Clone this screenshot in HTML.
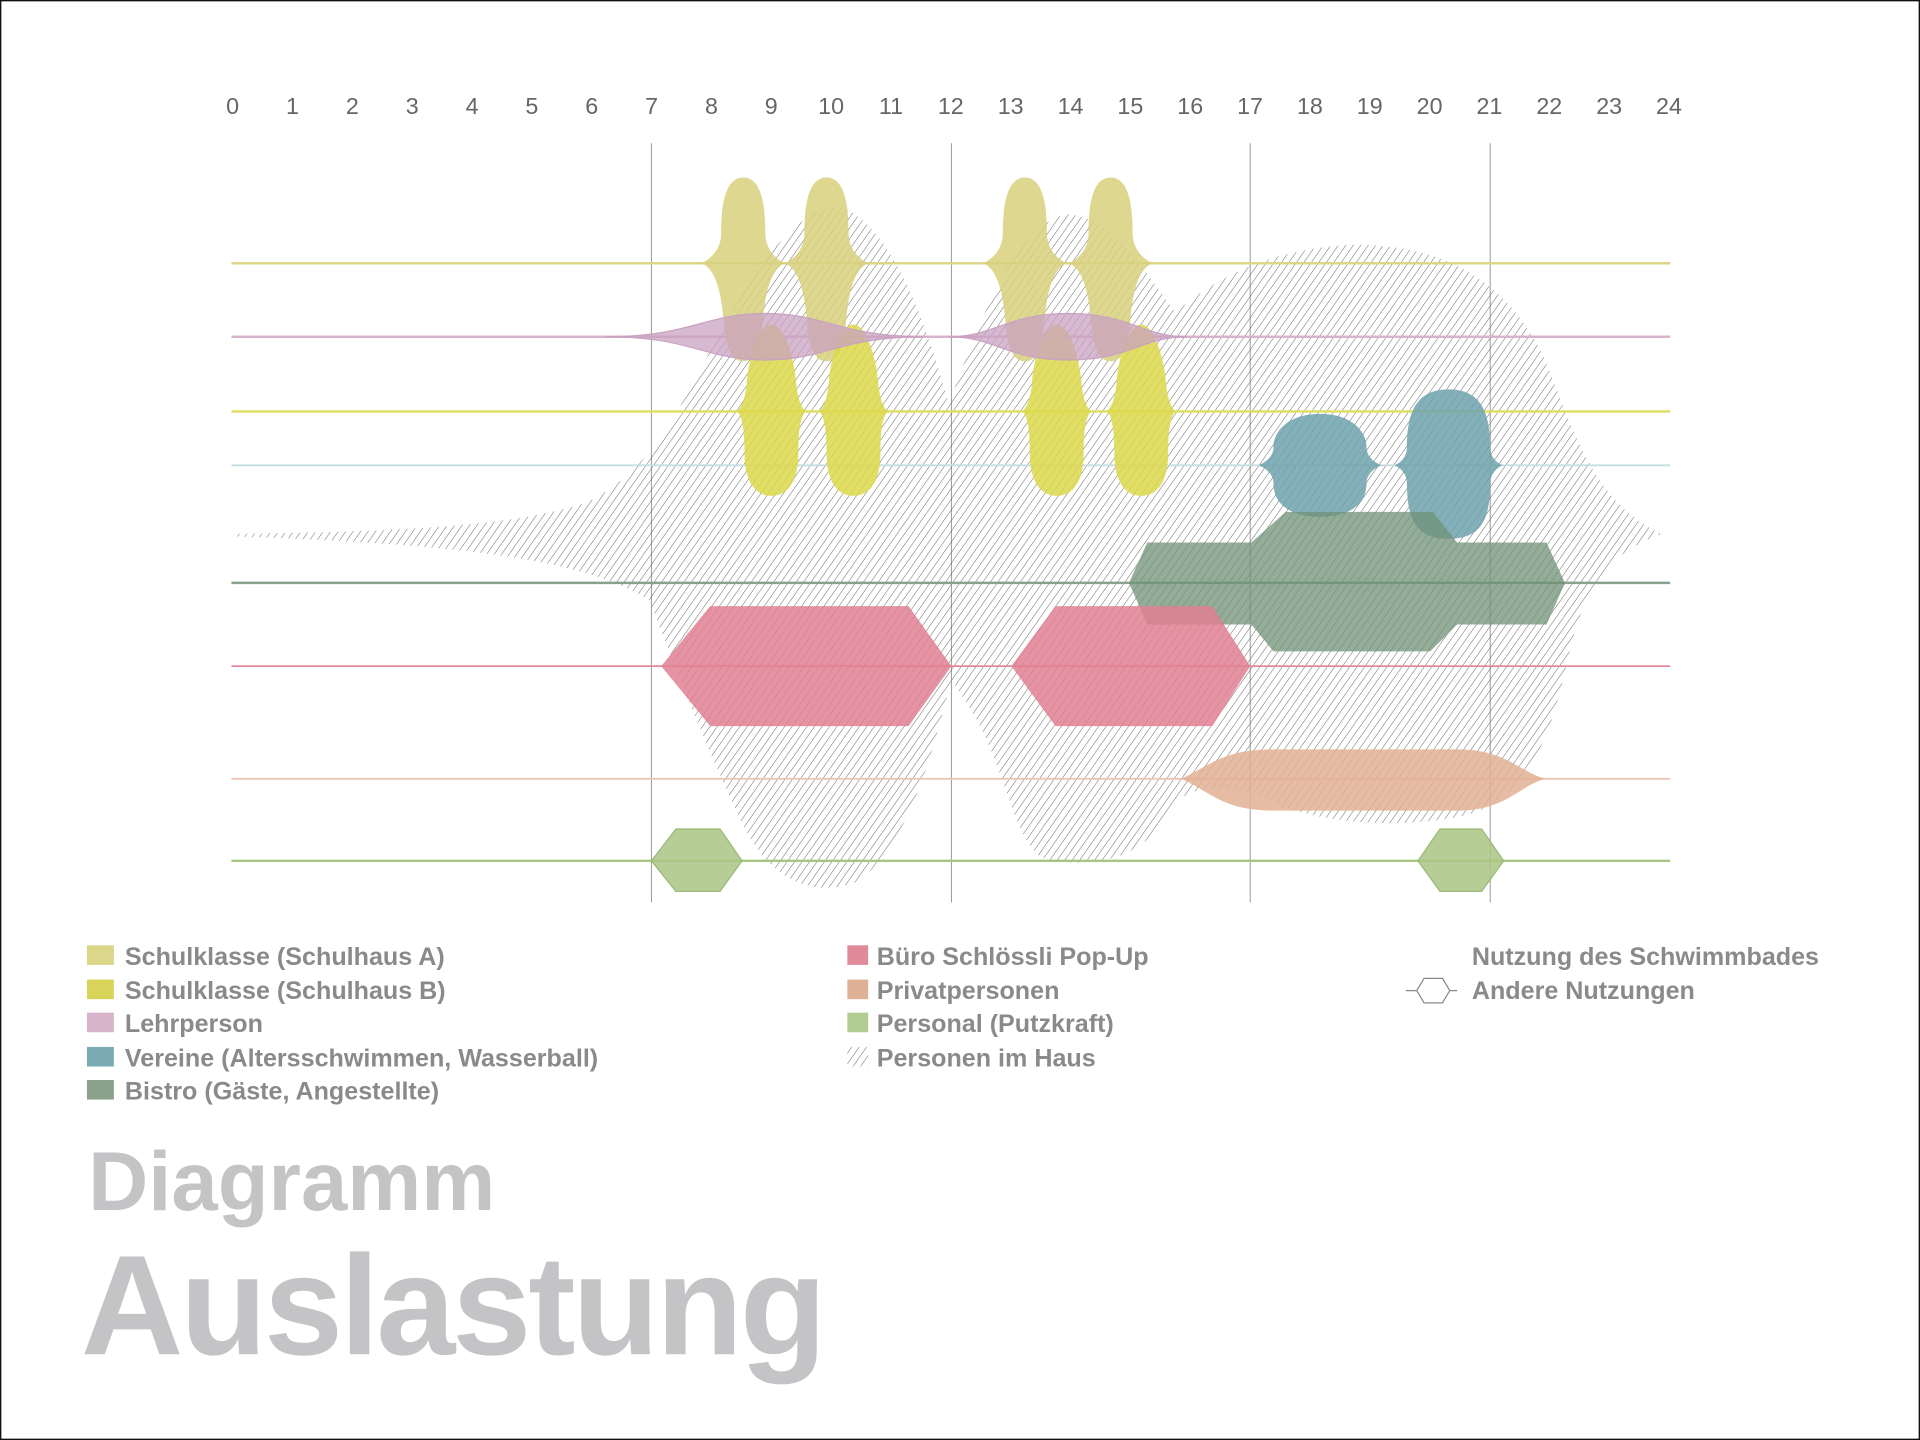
<!DOCTYPE html>
<html><head><meta charset="utf-8"><style>
html,body{margin:0;padding:0;background:#fff}
svg{display:block}
text{font-family:"Liberation Sans",sans-serif}
</style></head><body>
<svg id="s" width="1920" height="1440" viewBox="0 0 1568 1176" xmlns="http://www.w3.org/2000/svg">
<defs>
<pattern id="h" patternUnits="userSpaceOnUse" width="5" height="5" patternTransform="rotate(35)">
<line x1="0" y1="0" x2="0" y2="5" stroke="#666" stroke-width="0.8"/>
</pattern>
</defs>
<rect x="0.5" y="0.5" width="1567" height="1175" fill="#fff" stroke="#111" stroke-width="1.2"/>
<g id="hours" font-size="19" fill="#666" text-anchor="middle"></g>
<g stroke="#999" stroke-width="0.8">
<line x1="532" y1="117" x2="532" y2="737"/><line x1="777" y1="117" x2="777" y2="737"/>
<line x1="1021" y1="117" x2="1021" y2="737"/><line x1="1217" y1="117" x2="1217" y2="737"/>
</g>
<path fill="url(#h)" d="M190,436 C330,434 420,430 480,410 C540,380 560,320 600,250 C630,200 660,165 690,170 C730,190 755,260 775,330 C800,260 830,185 870,175 C910,175 940,230 960,255 C990,230 1030,205 1100,200 C1180,198 1230,230 1260,290 C1285,350 1300,410 1357,436 C1320,450 1295,470 1280,540 C1265,610 1245,650 1200,665 C1140,680 1060,670 1030,650 C990,640 965,640 950,670 C930,705 880,710 850,700 C825,680 820,620 790,575 L777,555 C765,600 745,690 700,720 C660,735 630,715 610,680 C580,620 550,540 530,490 C480,460 400,445 190,438 Z"/>
<g id="lines"></g>
<g id="shapes"></g>
<path fill="#6f9177" fill-opacity="0.75" d="M922,476 L937,443 L1022,443 L1050,418 L1170,418 L1190,443 L1263,443 L1278,476 L1263,510 L1190,510 L1168,532 L1040,532 L1022,510 L937,510 Z"/>
<path fill="#e07f92" fill-opacity="0.85" d="M540,544 L580,495 L742,495 L777,544 L742,593 L580,593 Z"/>
<path fill="#e07f92" fill-opacity="0.85" d="M826,544 L862,495 L990,495 L1021,544 L990,593 L862,593 Z"/>
<path fill="#e3b094" fill-opacity="0.85" d="M965,636 C990,624 1000,612 1040,612 L1190,612 C1230,612 1240,630 1262,636 C1240,642 1230,662 1190,662 L1040,662 C1000,662 990,648 965,636 Z"/>
<path fill="#a9c584" fill-opacity="0.85" stroke="#9ab876" d="M532,703 L552,677 L588,677 L606,703 L588,728 L552,728 Z"/>
<path fill="#a9c584" fill-opacity="0.85" stroke="#9ab876" d="M1158,703 L1176,677 L1210,677 L1228,703 L1210,728 L1176,728 Z"/>
<g font-size="20.5" fill="#8a8a8a" font-weight="bold">
<rect x="71" y="772" width="22" height="16" fill="#dcd68a"/><text x="102" y="788">Schulklasse (Schulhaus A)</text>
<rect x="71" y="800" width="22" height="16" fill="#d8d45a"/><text x="102" y="816">Schulklasse (Schulhaus B)</text>
<rect x="71" y="827" width="22" height="16" fill="#d8b4cc"/><text x="102" y="843">Lehrperson</text>
<rect x="71" y="855" width="22" height="16" fill="#7aaab4"/><text x="102" y="871">Vereine (Altersschwimmen, Wasserball)</text>
<rect x="71" y="882" width="22" height="16" fill="#8aa28c"/><text x="102" y="898">Bistro (Gäste, Angestellte)</text>
<rect x="692" y="772" width="17" height="16" fill="#e08a9a"/><text x="716" y="788">Büro Schlössli Pop-Up</text>
<rect x="692" y="800" width="17" height="16" fill="#deb096"/><text x="716" y="816">Privatpersonen</text>
<rect x="692" y="827" width="17" height="16" fill="#b3cc94"/><text x="716" y="843">Personal (Putzkraft)</text>
<rect x="692" y="855" width="17" height="16" fill="url(#h)"/><text x="716" y="871">Personen im Haus</text>
<text x="1202" y="788">Nutzung des Schwimmbades</text>
<text x="1202" y="816">Andere Nutzungen</text>
</g>
<path d="M1148,809 L1157,809 L1163,799 L1178,799 L1184,809 L1190,809 M1157,809 L1163,819 L1178,819 L1184,809" fill="none" stroke="#888" stroke-width="1"/>
<text x="72" y="988" font-size="68" font-weight="bold" fill="#c4c4c6">Diagramm</text>
<text x="66" y="1106" font-size="116" font-weight="bold" fill="#c4c4c6" letter-spacing="-2.5">Auslastung</text>
</svg>
<script>
var NS="http://www.w3.org/2000/svg";
function el(p,t,a){var e=document.createElementNS(NS,t);for(var k in a)e.setAttribute(k,a[k]);p.appendChild(e);return e;}
var hg=document.getElementById('hours');
for(var i=0;i<=24;i++){var t=el(hg,'text',{x:190+48.875*i,y:93});t.textContent=i;}
var lg=document.getElementById('lines');
[[215,'#dcd68a',2],[275,'#d8b4cc',2],[336,'#dede60',2],[380,'#c8dde2',1.5],[476,'#8aa28c',2],[544,'#e48a9c',1.5],[636,'#ecc6b4',1.5],[703,'#a9c584',2]].forEach(function(l){
 el(lg,'line',{x1:189,y1:l[0],x2:1364,y2:l[0],stroke:l[1],'stroke-width':l[2]});});
var sg=document.getElementById('shapes');
function blobA(cx,col){
 var d='M'+cx+',145 C'+(cx+14)+',145 '+(cx+18)+',165 '+(cx+18)+',190 C'+(cx+18)+',205 '+(cx+28)+',212 '+(cx+34)+',215 C'+(cx+22)+',220 '+(cx+18)+',240 '+(cx+16)+',262 C'+(cx+14)+',288 '+(cx+8)+',295 '+cx+',295 C'+(cx-8)+',295 '+(cx-14)+',288 '+(cx-16)+',262 C'+(cx-18)+',240 '+(cx-22)+',220 '+(cx-34)+',215 C'+(cx-28)+',212 '+(cx-18)+',205 '+(cx-18)+',190 C'+(cx-18)+',165 '+(cx-14)+',145 '+cx+',145 Z';
 el(sg,'path',{d:d,fill:col,'fill-opacity':0.85});}
function blobB(cx,col){
 var d='M'+cx+',265 C'+(cx+10)+',265 '+(cx+18)+',290 '+(cx+20)+',310 C'+(cx+21)+',325 '+(cx+24)+',332 '+(cx+28)+',336 C'+(cx+24)+',340 '+(cx+22)+',350 '+(cx+22)+',370 C'+(cx+22)+',395 '+(cx+12)+',405 '+cx+',405 C'+(cx-12)+',405 '+(cx-22)+',395 '+(cx-22)+',370 C'+(cx-22)+',350 '+(cx-24)+',340 '+(cx-28)+',336 C'+(cx-24)+',332 '+(cx-21)+',325 '+(cx-20)+',310 C'+(cx-18)+',290 '+(cx-10)+',265 '+cx+',265 Z';
 el(sg,'path',{d:d,fill:col,'fill-opacity':0.85});}
function blobV(cx,hw,fl,top,bot){
 var y=380;
 var d='M'+cx+','+top+' C'+(cx+hw*0.7)+','+top+' '+(cx+hw)+','+(top+15)+' '+(cx+hw)+','+(y-15)+' C'+(cx+hw)+','+(y-6)+' '+(cx+fl-4)+','+(y-2)+' '+(cx+fl)+','+y+' C'+(cx+fl-4)+','+(y+2)+' '+(cx+hw)+','+(y+6)+' '+(cx+hw)+','+(y+15)+' C'+(cx+hw)+','+(bot-12)+' '+(cx+hw*0.7)+','+bot+' '+cx+','+bot+' C'+(cx-hw*0.7)+','+bot+' '+(cx-hw)+','+(bot-12)+' '+(cx-hw)+','+(y+15)+' C'+(cx-hw)+','+(y+6)+' '+(cx-fl+4)+','+(y+2)+' '+(cx-fl)+','+y+' C'+(cx-fl+4)+','+(y-2)+' '+(cx-hw)+','+(y-6)+' '+(cx-hw)+','+(y-15)+' C'+(cx-hw)+','+(top+15)+' '+(cx-hw*0.7)+','+top+' '+cx+','+top+' Z';
 el(sg,'path',{d:d,fill:'#6fa2ad','fill-opacity':0.85});}
function lens(x1,x2,cy,h){var cx=(x1+x2)/2;
 var d='M'+x1+','+cy+' C'+(cx-60)+','+cy+' '+(cx-50)+','+(cy-h)+' '+cx+','+(cy-h)+' C'+(cx+50)+','+(cy-h)+' '+(cx+60)+','+cy+' '+x2+','+cy+' C'+(cx+60)+','+cy+' '+(cx+50)+','+(cy+h)+' '+cx+','+(cy+h)+' C'+(cx-50)+','+(cy+h)+' '+(cx-60)+','+cy+' '+x1+','+cy+' Z';
 el(sg,'path',{d:d,fill:'#c9a2c2','fill-opacity':0.75,stroke:'#c9a2c2','stroke-width':1});}
[607,675,837,907].forEach(function(c){blobA(c,'#d8d07c');});
[630,697,863,932].forEach(function(c){blobB(c,'#dcd84a');});
lens(495,755,275,19);lens(775,970,275,19);
blobV(1078,38,50,338,422);blobV(1183,34,44,318,440);
</script>
</body></html>
